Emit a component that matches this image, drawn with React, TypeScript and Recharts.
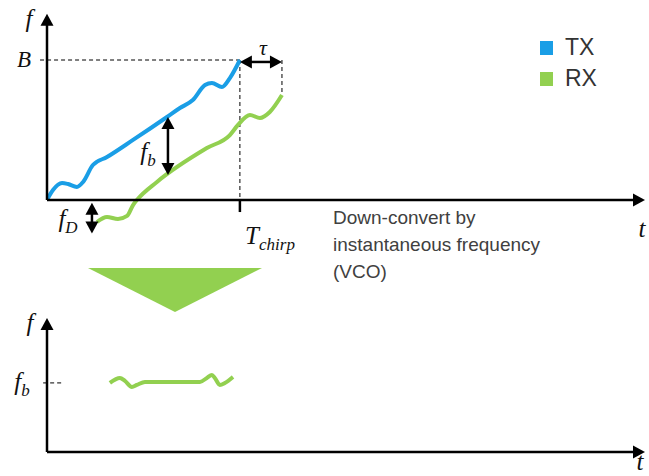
import React from 'react';
import { LineChart, Line, XAxis, YAxis, ReferenceLine } from 'recharts';

// time in units of T_chirp, frequency in units of B (top) / f_b (bottom)
const T_CHIRP = 1;
const TAU = 0.218;
const F_D = 0.24;
const B = 1;
const FB_TOP = 0.593;
const FB_LOW = 0.179;
const FB_X = 0.627;
const FD_X = 0.233;

const TX_T = [0, 0.031, 0.078, 0.109, 0.155, 0.187, 0.238, 0.311, 0.446, 0.622, 0.689, 0.756, 0.819, 0.855, 0.907, 0.948, 1.0];
const TX_F = [0, 0.071, 0.121, 0.114, 0.093, 0.129, 0.25, 0.307, 0.429, 0.593, 0.657, 0.714, 0.821, 0.836, 0.807, 0.871, 1.0];

const RX_T = [0.259, 0.311, 0.368, 0.415, 0.446, 0.466, 0.57, 0.829, 0.948, 0.99, 1.052, 1.104, 1.155, 1.218];
const RX_F = [-0.157, -0.121, -0.136, -0.114, -0.036, 0, 0.129, 0.371, 0.464, 0.536, 0.607, 0.586, 0.629, 0.75];

const BEAT_T = [0.326, 0.378, 0.404, 0.44, 0.466, 0.508, 0.793, 0.829, 0.855, 0.87, 0.896, 0.922, 0.964];
const BEAT_F = [1.0, 1.072, 1.029, 0.942, 0.971, 1.014, 1.014, 1.072, 1.116, 1.072, 0.971, 1.0, 1.087];

const SERIES = ['TX', 'RX'];
const COLORS = ['#1a9ee6', '#92d050'];
const NOTE_LINES = ['Down-convert by', 'instantaneous frequency', '(VCO)'];

const toRows = (ts: number[], fs: number[]) => ts.map((t, i) => ({ t, f: fs[i] }));

const txData = toRows(TX_T, TX_F);
const rxData = toRows(RX_T, RX_F);
const beatData = toRows(BEAT_T, BEAT_F);

const arrow = (heads: 'end' | 'both', sw = 2.5) => (p: any) => {
  const { x1, y1, x2, y2 } = p;
  const dx = x2 - x1;
  const dy = y2 - y1;
  const len = Math.hypot(dx, dy) || 1;
  const ux = dx / len;
  const uy = dy / len;
  const L = 12;
  const W = 6.5;
  const head = (tx: number, ty: number, sx: number, sy: number) =>
    `${tx},${ty} ${tx - sx * L - sy * W},${ty - sy * L + sx * W} ${tx - sx * L + sy * W},${ty - sy * L - sx * W}`;
  const sx = heads === 'both' ? x1 + ux * L * 0.8 : x1;
  const sy = heads === 'both' ? y1 + uy * L * 0.8 : y1;
  return (
    <g>
      <line x1={sx} y1={sy} x2={x2 - ux * L * 0.8} y2={y2 - uy * L * 0.8} stroke="#000" strokeWidth={sw} />
      <polygon points={head(x2, y2, ux, uy)} fill="#000" />
      {heads === 'both' && <polygon points={head(x1, y1, -ux, -uy)} fill="#000" />}
    </g>
  );
};

const math: React.CSSProperties = {
  position: 'absolute',
  fontFamily: '"Liberation Serif", serif',
  fontStyle: 'italic',
  fontSize: 25,
  color: '#111',
  transform: 'translate(-50%, -50%)',
  whiteSpace: 'nowrap',
  lineHeight: 1,
};

const Sub = ({ c }: { c: string }) => (
  <sub style={{ fontSize: 17, verticalAlign: '-0.3em' }}>{c}</sub>
);

const App: React.FC = () => {
  return (
    <div style={{ position: 'absolute', left: 0, top: 0, width: 649, height: 476, background: '#fff', overflow: 'hidden' }}>
      {/* top: transmitted and received chirps */}
      <div style={{ position: 'absolute', left: 0, top: 0 }}>
        <LineChart width={649} height={256} margin={{ top: 4, right: 4, bottom: 0, left: 47 }}>
          <XAxis type="number" dataKey="t" domain={[0, 3.1]} allowDataOverflow hide />
          <YAxis type="number" dataKey="f" domain={[-0.4, 1.4]} allowDataOverflow hide />
          <ReferenceLine ifOverflow="visible" segment={[{ x: -0.036, y: B }, { x: T_CHIRP, y: B }]} stroke="#000" strokeWidth={1} strokeDasharray="4 3" />
          <ReferenceLine ifOverflow="visible" segment={[{ x: T_CHIRP, y: B }, { x: T_CHIRP, y: 0 }]} stroke="#000" strokeWidth={1} strokeDasharray="4 3" />
          <ReferenceLine ifOverflow="visible" segment={[{ x: T_CHIRP + TAU, y: B }, { x: T_CHIRP + TAU, y: RX_F[RX_F.length - 1] }]} stroke="#000" strokeWidth={1} strokeDasharray="4 3" />
          <ReferenceLine ifOverflow="visible" segment={[{ x: T_CHIRP, y: 0 }, { x: T_CHIRP, y: -0.086 }]} stroke="#000" strokeWidth={2.5} />
          <Line data={txData} dataKey="f" type="monotone" stroke={COLORS[0]} strokeWidth={4} dot={false} activeDot={false} isAnimationActive={false} />
          <Line data={rxData} dataKey="f" type="monotone" stroke={COLORS[1]} strokeWidth={4} dot={false} activeDot={false} isAnimationActive={false} />
          <ReferenceLine ifOverflow="visible" segment={[{ x: 0, y: 0 }, { x: 3.1, y: 0 }]} shape={arrow('end')} />
          <ReferenceLine ifOverflow="visible" segment={[{ x: 0, y: 0 }, { x: 0, y: 1.33 }]} shape={arrow('end')} />
          <ReferenceLine ifOverflow="visible" segment={[{ x: T_CHIRP, y: 0.986 }, { x: T_CHIRP + TAU, y: 0.986 }]} shape={arrow('both')} />
          <ReferenceLine ifOverflow="visible" segment={[{ x: FB_X, y: FB_TOP }, { x: FB_X, y: FB_LOW }]} shape={arrow('both')} />
          <ReferenceLine ifOverflow="visible" segment={[{ x: FD_X, y: -0.02 }, { x: FD_X, y: -F_D }]} shape={arrow('both')} />
        </LineChart>
      </div>

      {/* bottom: beat frequency after down-conversion */}
      <div style={{ position: 'absolute', left: 0, top: 300 }}>
        <LineChart width={649} height={176} margin={{ top: 0, right: 4, bottom: 24, left: 47 }}>
          <XAxis type="number" dataKey="t" domain={[0, 3.1]} allowDataOverflow hide />
          <YAxis type="number" dataKey="f" domain={[0, 2.2]} allowDataOverflow hide />
          <ReferenceLine ifOverflow="visible" segment={[{ x: -0.02, y: 1 }, { x: 0.083, y: 1 }]} stroke="#000" strokeWidth={1} strokeDasharray="4 3" />
          <Line data={beatData} dataKey="f" type="monotone" stroke={COLORS[1]} strokeWidth={4} dot={false} activeDot={false} isAnimationActive={false} />
          <ReferenceLine ifOverflow="visible" segment={[{ x: 0, y: 0 }, { x: 3.1, y: 0 }]} shape={arrow('end')} />
          <ReferenceLine ifOverflow="visible" segment={[{ x: 0, y: 0 }, { x: 0, y: 1.94 }]} shape={arrow('end')} />
        </LineChart>
      </div>

      {/* down-conversion arrow */}
      <svg width={649} height={476} style={{ position: 'absolute', left: 0, top: 0, pointerEvents: 'none' }}>
        <polygon points="88,268 262,268 175,312" fill={COLORS[1]} />
      </svg>

      {/* math labels */}
      <div style={{ ...math, left: 29, top: 18 }}>f</div>
      <div style={{ ...math, left: 24, top: 59, fontSize: 23 }}>B</div>
      <div style={{ ...math, left: 263, top: 48, fontSize: 22 }}>τ</div>
      <div style={{ ...math, left: 148, top: 154 }}>f<Sub c="b" /></div>
      <div style={{ ...math, left: 68, top: 221 }}>f<Sub c="D" /></div>
      <div style={{ ...math, left: 270, top: 238 }}>T<Sub c="chirp" /></div>
      <div style={{ ...math, left: 642, top: 228 }}>t</div>
      <div style={{ ...math, left: 30, top: 322 }}>f</div>
      <div style={{ ...math, left: 22, top: 384 }}>f<Sub c="b" /></div>
      <div style={{ ...math, left: 640, top: 461 }}>t</div>

      {/* note */}
      <div style={{ position: 'absolute', left: 333, top: 204, fontFamily: '"Liberation Sans", Arial, sans-serif', fontSize: 19, lineHeight: '27px', color: '#404040' }}>
        {NOTE_LINES.map((l) => (
          <div key={l}>{l}</div>
        ))}
      </div>

      {/* legend */}
      <div style={{ position: 'absolute', left: 540, top: 32, fontFamily: '"Liberation Sans", Arial, sans-serif', fontSize: 23, color: '#333' }}>
        {SERIES.map((s, i) => (
          <div key={s} style={{ display: 'flex', alignItems: 'center', height: 31 }}>
            <span style={{ display: 'inline-block', width: 13, height: 14, background: COLORS[i], marginRight: 12 }} />
            {s}
          </div>
        ))}
      </div>
    </div>
  );
};

export default App;
